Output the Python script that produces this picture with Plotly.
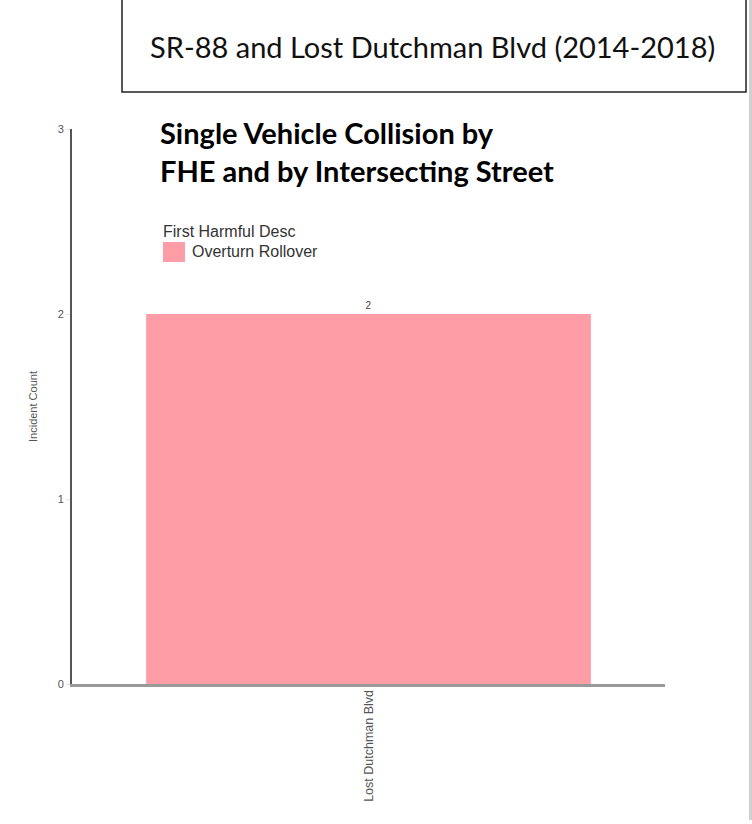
import plotly.graph_objects as go

# ---- data ----
categories = ["Lost Dutchman Blvd"]
overturn_rollover = [2]
series_name = "Overturn Rollover"
legend_title = "First Harmful Desc"
y_ticks = [0, 1, 2, 3]
page_title = "SR-88 and Lost Dutchman Blvd (2014-2018)"
chart_title = "Single Vehicle Collision by<br>FHE and by Intersecting Street"
y_title = "Incident Count"

W, H = 752, 824
L, R, T, B = 72, 665, 129, 684  # plot area in pixels


def px(x):
    return (x - L) / (R - L)


def py(y):
    return (B - y) / (B - T)


BAR = "#FF9DA7"
fig = go.Figure()
fig.add_trace(go.Bar(
    x=categories, y=overturn_rollover, name=series_name,
    marker=dict(color=BAR, line=dict(width=0)),
    texttemplate="%{y}", textposition="outside",
    textfont=dict(family="Liberation Sans", size=10, color="#444"),
    cliponaxis=False, showlegend=False,
))

fig.update_layout(
    width=W, height=H,
    margin=dict(l=L, r=W - R, t=T, b=H - B, pad=0),
    paper_bgcolor="white", plot_bgcolor="white",
    bargap=0.25,
    font=dict(family="Liberation Sans", color="#555"),
)
fig.update_xaxes(
    showline=True, linecolor="#999", linewidth=3,
    showgrid=False, zeroline=False, ticks="",
    tickangle=-90, tickfont=dict(size=12.5, color="#555"),
    ticklabelstandoff=-2,
)
fig.update_yaxes(
    range=[0, 3], tickvals=y_ticks,
    showline=True, linecolor="#555", linewidth=2,
    showgrid=False, zeroline=False,
    ticks="outside", ticklen=4, tickcolor="#e6e6e6",
    tickfont=dict(size=11, color="#555"),
    title=dict(text=y_title, font=dict(size=11, color="#555"), standoff=18),
)

shapes = [
    # title box
    dict(type="rect", xref="paper", yref="paper",
         x0=px(122), x1=px(746), y0=py(92), y1=py(-6),
         line=dict(color="#222", width=1.5), fillcolor="rgba(0,0,0,0)"),
    # right grey edge
    dict(type="line", xref="paper", yref="paper",
         x0=px(750.5), x1=px(750.5), y0=py(0), y1=py(820),
         line=dict(color="#d0d0d0", width=3)),
    # legend swatch
    dict(type="rect", xref="paper", yref="paper",
         x0=px(163), x1=px(185), y0=py(262), y1=py(242),
         line=dict(width=0), fillcolor=BAR),
]

annotations = [
    dict(text=page_title, xref="paper", yref="paper", x=px(432), y=py(47),
         xanchor="center", yanchor="middle", showarrow=False,
         font=dict(family="Lato", size=29, color="#111")),
    dict(text="<b>" + chart_title + "</b>", xref="paper", yref="paper",
         x=px(158), y=py(113), xanchor="left", yanchor="top", align="left",
         showarrow=False, font=dict(family="Lato", size=29, color="#000")),
    dict(text=legend_title, xref="paper", yref="paper", x=px(161), y=py(231),
         xanchor="left", yanchor="middle", showarrow=False,
         font=dict(family="Liberation Sans", size=16, color="#333")),
    dict(text=series_name, xref="paper", yref="paper", x=px(190), y=py(252),
         xanchor="left", yanchor="middle", showarrow=False,
         font=dict(family="Liberation Sans", size=16, color="#333")),
]
fig.update_layout(shapes=shapes, annotations=annotations)

fig.write_html("out.html", config={"displayModeBar": False},
               post_script="document.body.style.margin='0';")
